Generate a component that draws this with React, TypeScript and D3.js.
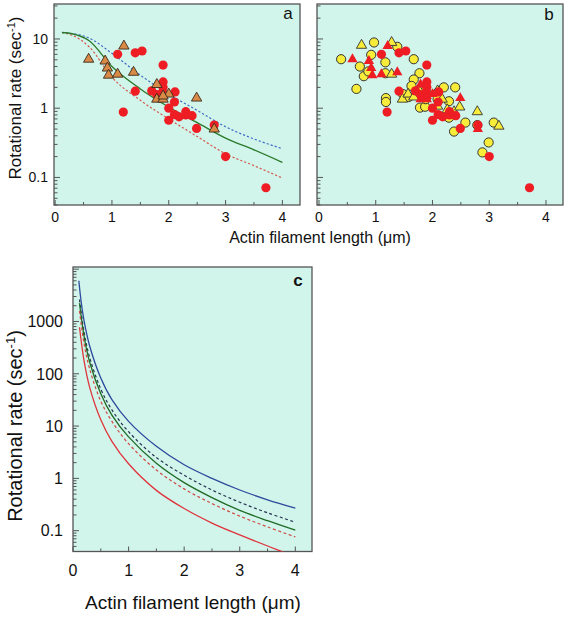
import React from "react";
import * as d3 from "d3";

const FONT = "'Liberation Sans', Arial, Helvetica, sans-serif";
const BG = "#d1f4eb";
const FRAME = "#555";

// ---------- axis tick labels ----------
const X_TICK_LABELS = [0, 1, 2, 3, 4];
const Y_LABELS_AB = [0.1, 1, 10];
const Y_LABELS_C = [0.1, 1, 10, 100, 1000];

// ---------- panel a: model curves ----------
const A_CURVE_LEN = [0.12, 0.3, 0.6, 1.0, 1.5, 2.0, 2.5, 3.0, 3.5, 4.0];
const A_BLUE_DASHED = [12.4, 12.0, 10.3, 6.2, 3.0, 1.6, 0.93, 0.54, 0.36, 0.26];
const A_GREEN_SOLID = [12.4, 11.9, 9.4, 4.0, 1.9, 1.04, 0.62, 0.37, 0.25, 0.165];
const A_RED_DASHED = [12.4, 11.3, 7.7, 2.8, 1.3, 0.7, 0.39, 0.22, 0.148, 0.098];

// ---------- measured points [length µm, rate s^-1] ----------
const RED_CIRCLES: [number, number][] = [
  [1.1, 6.0], [1.41, 6.3], [1.53, 6.7], [1.9, 4.2], [1.9, 2.4], [1.9, 2.0],
  [1.89, 1.7], [1.7, 1.78], [1.41, 1.76], [1.79, 1.57], [1.2, 0.88], [2.0, 1.0],
  [2.11, 1.72], [2.1, 1.23], [2.0, 0.67], [2.1, 0.81], [2.18, 0.75], [2.3, 0.89],
  [2.3, 0.8], [2.41, 0.78], [2.49, 0.51], [2.8, 0.57], [3.0, 0.2], [3.71, 0.071],
];
const TRIANGLES_A: [number, number][] = [
  [0.59, 5.1], [1.21, 7.9], [0.88, 4.8], [0.92, 3.8], [0.94, 3.0], [1.1, 3.1],
  [1.38, 3.3], [1.79, 2.2], [2.0, 1.6], [1.79, 1.35], [1.9, 1.35], [1.9, 1.5],
  [2.49, 1.4], [2.8, 0.5],
];
const YELLOW_CIRCLES: [number, number][] = [
  [0.39, 5.1], [0.66, 1.9], [0.72, 4.0], [0.79, 2.9], [0.87, 3.4], [0.92, 5.9],
  [0.97, 8.9], [1.17, 4.6], [1.17, 3.2], [1.18, 1.4], [1.18, 1.23], [1.38, 7.7],
  [1.67, 5.1], [1.77, 3.2], [1.67, 2.6], [1.63, 2.1], [1.48, 1.6], [1.58, 1.45],
  [1.78, 1.02], [1.87, 1.05], [1.88, 1.8], [1.88, 1.35], [2.09, 1.68], [2.09, 1.35],
  [2.2, 2.0], [2.4, 2.0], [2.29, 1.26], [2.29, 0.73], [2.38, 0.46], [2.58, 0.62],
  [2.79, 0.57], [2.99, 0.32], [2.88, 0.23], [3.08, 0.62],
];
const YELLOW_TRIANGLES: [number, number][] = [
  [0.75, 8.1], [1.28, 8.9], [1.28, 3.1], [1.47, 1.35], [1.57, 1.6], [1.67, 1.45],
  [1.78, 1.72], [2.09, 1.07], [2.09, 1.78], [2.17, 1.35], [2.26, 0.95], [2.38, 0.89],
  [2.48, 1.04], [2.79, 0.89], [3.17, 0.55],
];

// ---------- panel c: model curves ----------
const C_BLUE_LEN = [0.105, 0.15, 0.2, 0.3, 0.5, 0.7, 1, 1.5, 2, 2.5, 3, 3.5, 4];
const C_BLUE_SOLID = [6000, 2240, 1020, 340, 83, 32, 12.3, 4.1, 1.82, 1.0, 0.6, 0.39, 0.27];
const C_LEN = [0.117, 0.2, 0.3, 0.5, 0.7, 1, 1.5, 2, 2.5, 3, 3.5, 4];
const C_DARK_DASHED = [2630, 617, 204, 51, 20.4, 7.8, 2.5, 1.15, 0.6, 0.35, 0.22, 0.145];
const C_GREEN_SOLID = [2240, 513, 166, 41.7, 16.2, 6.2, 1.95, 0.83, 0.43, 0.245, 0.155, 0.102];
const C_RED_DASHED = [1585, 372, 123, 30, 12.3, 4.6, 1.45, 0.63, 0.33, 0.19, 0.118, 0.076];
const C_RED_SOLID = [776, 174, 55, 13.2, 5.1, 1.9, 0.59, 0.265, 0.14, 0.083, 0.051, 0.032];

type Box = { l: number; r: number; t: number; b: number; xd: [number, number]; yd: [number, number] };

const BOX_A: Box = { l: 54, r: 300, t: 4, b: 205, xd: [-0.02, 4.31], yd: [0.04, 32] };
const BOX_B: Box = { l: 317, r: 563, t: 4, b: 205, xd: [-0.035, 4.3], yd: [0.04, 32] };
const BOX_C: Box = { l: 73, r: 312, t: 267, b: 551.5, xd: [0, 4.3], yd: [0.04, 11000] };

function scales(b: Box) {
  return {
    x: d3.scaleLinear().domain(b.xd).range([b.l, b.r]),
    y: d3.scaleLog().domain(b.yd).range([b.b, b.t]),
  };
}

const fmt = (v: number) => (v < 1 ? String(v) : String(Math.round(v)));

function Frame({ box, yLabels, tickFont, showY, yLabelX, xLabelY }: any) {
  const { x, y } = scales(box);
  const yt = y.ticks().filter((v) => v >= box.yd[0] * 0.999 && v <= box.yd[1]);
  const xt = d3.range(0, 4.01, 0.5);
  return (
    <g>
      <rect x={box.l} y={box.t} width={box.r - box.l} height={box.b - box.t} fill={BG} />
      {yt.map((v, i) => {
        const lg = Math.log10(v);
        const major = Math.abs(lg - Math.round(lg)) < 1e-6;
        return (
          <line key={"y" + i} x1={box.l} x2={box.l + (major ? 6 : 3.5)} y1={y(v)} y2={y(v)} stroke={FRAME} strokeWidth={1} />
        );
      })}
      {xt.map((v, i) => {
        const major = Math.abs(v - Math.round(v)) < 1e-6;
        return (
          <line key={"x" + i} x1={x(v)} x2={x(v)} y1={box.b} y2={box.b - (major ? 5 : 3)} stroke={FRAME} strokeWidth={1} />
        );
      })}
      <rect x={box.l} y={box.t} width={box.r - box.l} height={box.b - box.t} fill="none" stroke={FRAME} strokeWidth={1.3} />
      {showY &&
        yLabels.map((v: number) => (
          <text key={"yl" + v} x={yLabelX} y={y(v)} dy="0.36em" textAnchor="end" fontSize={tickFont} fontFamily={FONT} fill="#111">
            {fmt(v)}
          </text>
        ))}
      {X_TICK_LABELS.map((v) => (
        <text key={"xl" + v} x={x(v)} y={xLabelY} textAnchor="middle" fontSize={tickFont} fontFamily={FONT} fill="#111">
          {v}
        </text>
      ))}
    </g>
  );
}

const tri = d3.symbol(d3.symbolTriangle, 46)() as string;

export default function App() {
  const A = scales(BOX_A);
  const B = scales(BOX_B);
  const C = scales(BOX_C);

  const lineA = d3
    .line<[number, number]>()
    .x((d) => A.x(d[0]))
    .y((d) => A.y(d[1]))
    .curve(d3.curveMonotoneX);
  const lineC = d3
    .line<[number, number]>()
    .x((d) => C.x(d[0]))
    .y((d) => C.y(d[1]))
    .curve(d3.curveCatmullRom.alpha(0.5));
  const zip = (xs: number[], ys: number[]) => xs.map((v, i) => [v, ys[i]] as [number, number]);

  return (
    <svg width={570} height={619} style={{ position: "absolute", left: 0, top: 0, background: "#fff" }}>
      <defs>
        <clipPath id="clipC">
          <rect x={BOX_C.l} y={BOX_C.t} width={BOX_C.r - BOX_C.l} height={BOX_C.b - BOX_C.t} />
        </clipPath>
      </defs>

      {/* Panel a */}
      <Frame box={BOX_A} yLabels={Y_LABELS_AB} tickFont={14} showY yLabelX={48} xLabelY={222} />
      <path d={lineA(zip(A_CURVE_LEN, A_BLUE_DASHED)) as string} fill="none" stroke="#3d6cc4" strokeWidth={1.2} strokeDasharray="2.2,2" />
      <path d={lineA(zip(A_CURVE_LEN, A_RED_DASHED)) as string} fill="none" stroke="#d45a4e" strokeWidth={1.2} strokeDasharray="2.2,2" />
      <path d={lineA(zip(A_CURVE_LEN, A_GREEN_SOLID)) as string} fill="none" stroke="#2b7a2b" strokeWidth={1.3} />
      {RED_CIRCLES.map((d, i) => (
        <circle key={"ra" + i} cx={A.x(d[0])} cy={A.y(d[1])} r={4.6} fill="#ee1d24" />
      ))}
      {TRIANGLES_A.map((d, i) => (
        <path key={"ta" + i} d={tri} transform={`translate(${A.x(d[0])},${A.y(d[1])})`} fill="#d98a47" stroke="#3a2a1a" strokeWidth={0.9} />
      ))}
      <text x={288} y={19} textAnchor="middle" fontSize={17} fontFamily={FONT} fill="#111">a</text>

      {/* Panel b */}
      <Frame box={BOX_B} yLabels={Y_LABELS_AB} tickFont={14} showY={false} xLabelY={222} />
      {YELLOW_CIRCLES.map((d, i) => (
        <circle key={"yc" + i} cx={B.x(d[0])} cy={B.y(d[1])} r={4.6} fill="#f8ec3a" stroke="#333" strokeWidth={1} />
      ))}
      {YELLOW_TRIANGLES.map((d, i) => (
        <path key={"yt" + i} d={tri} transform={`translate(${B.x(d[0])},${B.y(d[1])})`} fill="#f8ec3a" stroke="#333" strokeWidth={0.9} />
      ))}
      {RED_CIRCLES.map((d, i) => (
        <circle key={"rb" + i} cx={B.x(d[0])} cy={B.y(d[1])} r={4.6} fill="#ee1d24" />
      ))}
      {TRIANGLES_A.map((d, i) => (
        <path key={"tb" + i} d={tri} transform={`translate(${B.x(d[0])},${B.y(d[1])})`} fill="#ee1d24" />
      ))}
      <text x={549} y={20} textAnchor="middle" fontSize={17} fontFamily={FONT} fill="#111">b</text>

      {/* shared labels for a/b */}
      <text transform="translate(21,98) rotate(-90)" textAnchor="middle" fontSize={17} fontFamily={FONT} fill="#111">
        Rotational rate (sec<tspan fontSize={11} dy={-6}>-1</tspan>
        <tspan dy={6}>)</tspan>
      </text>
      <text x={320} y={243} textAnchor="middle" fontSize={16} fontFamily={FONT} fill="#111">
        Actin filament length (μm)
      </text>

      {/* Panel c */}
      <Frame box={BOX_C} yLabels={Y_LABELS_C} tickFont={16} showY yLabelX={63} xLabelY={576} />
      <g clipPath="url(#clipC)">
        <path d={lineC(zip(C_BLUE_LEN, C_BLUE_SOLID)) as string} fill="none" stroke="#2d4a9c" strokeWidth={1.3} />
        <path d={lineC(zip(C_LEN, C_DARK_DASHED)) as string} fill="none" stroke="#23344f" strokeWidth={1.2} strokeDasharray="3,2.5" />
        <path d={lineC(zip(C_LEN, C_GREEN_SOLID)) as string} fill="none" stroke="#1f6b25" strokeWidth={1.3} />
        <path d={lineC(zip(C_LEN, C_RED_DASHED)) as string} fill="none" stroke="#cf4a45" strokeWidth={1.2} strokeDasharray="3,2.5" />
        <path d={lineC(zip(C_LEN, C_RED_SOLID)) as string} fill="none" stroke="#e0343c" strokeWidth={1.3} />
      </g>
      <text x={298} y={286} textAnchor="middle" fontSize={17} fontWeight="bold" fontFamily={FONT} fill="#111">c</text>
      <text transform="translate(22,426) rotate(-90)" textAnchor="middle" fontSize={20} fontFamily={FONT} fill="#111">
        Rotational rate (sec<tspan fontSize={13} dy={-7}>-1</tspan>
        <tspan dy={7}>)</tspan>
      </text>
      <text x={193} y={609} textAnchor="middle" fontSize={19} fontFamily={FONT} fill="#111">
        Actin filament length (μm)
      </text>
    </svg>
  );
}
